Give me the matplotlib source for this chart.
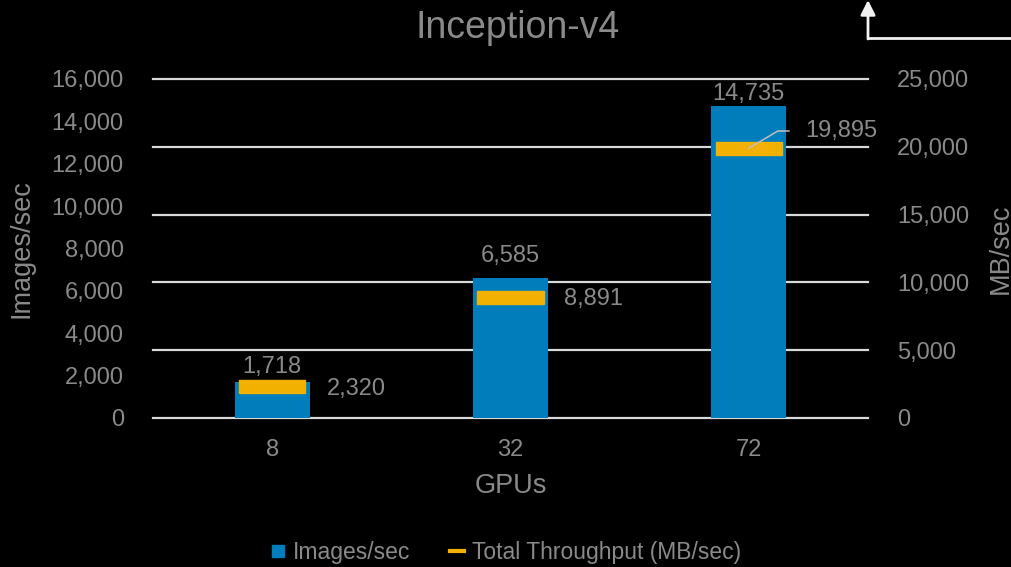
import matplotlib
matplotlib.use("Agg")
import matplotlib.pyplot as plt
from matplotlib.ticker import FuncFormatter, MultipleLocator
from matplotlib.lines import Line2D
from matplotlib.patches import Rectangle

gpus = ["8", "32", "72"]
images_sec = [1718, 6585, 14735]
throughput_mb = [2320, 8891, 19895]

plt.rcParams['font.family'] = ['Liberation Sans', 'DejaVu Sans']
TXT = '#8A8A8A'
BLUE = '#007DBA'
ORANGE = '#F2B100'
GRID = '#D9D9D9'
FS = 17
FS_AX = 19.5

fig = plt.figure(figsize=(10.12, 5.67), dpi=100, facecolor='black')
ax = fig.add_axes([0.1512, 0.2628, 0.7065, 0.5979])
ax.set_facecolor('black')
ax2 = ax.twinx()

x = list(range(len(gpus)))
ax.bar(x, images_sec, width=0.315, color=BLUE, zorder=2)
ax.set_ylim(0, 16000)
ax.set_xlim(-0.5, 2.5)
ax2.set_ylim(0, 25000)

fmt = FuncFormatter(lambda v, p: f"{int(v):,}")
ax.yaxis.set_major_locator(MultipleLocator(2000))
ax.yaxis.set_major_formatter(fmt)
ax2.yaxis.set_major_locator(MultipleLocator(5000))
ax2.yaxis.set_major_formatter(fmt)

for a in (ax, ax2):
    for s in a.spines.values():
        s.set_visible(False)
    a.tick_params(length=0, colors=TXT, labelsize=FS)
ax.tick_params(axis='y', pad=21)
ax2.tick_params(axis='y', pad=21)
ax.set_xticks(x)
ax.set_xticklabels(gpus)
ax.tick_params(axis='x', pad=15)

for v in range(0, 25001, 5000):
    ax2.axhline(v, color=GRID, lw=1.6, zorder=0, clip_on=False)
ax.set_zorder(ax2.get_zorder() + 1)
ax.patch.set_visible(False)

# throughput markers (in MB/sec coordinates, drawn above bars)
mh = 960
mw = 0.277
for xi, t in zip(x, throughput_mb):
    ax.add_patch(Rectangle((xi - mw / 2, t - mh / 2), mw, mh, color=ORANGE,
                           zorder=5, transform=ax2.transData))

# bar data labels (offset in points above bar top)
bar_lbl_off = [10.5, 16, 8.5]
for xi, v, off in zip(x, images_sec, bar_lbl_off):
    ax.annotate(f"{v:,}", (xi, v), xytext=(0, off), textcoords='offset points',
                ha='center', va='center', color=TXT, fontsize=FS, zorder=6)

# throughput labels
ax.text(x[0] + 0.353, throughput_mb[0] - 180, f"{throughput_mb[0]:,}", ha='center', va='center',
        color=TXT, fontsize=FS, transform=ax2.transData, zorder=6)
ax.text(x[1] + 0.35, throughput_mb[1] - 100, f"{throughput_mb[1]:,}", ha='center', va='center',
        color=TXT, fontsize=FS, transform=ax2.transData, zorder=6)
lead_y = throughput_mb[2] + 1270
ax.plot([x[2], x[2] + 0.122, x[2] + 0.168], [throughput_mb[2], lead_y, lead_y],
        color='#BFBFBF', lw=1.1, zorder=7, transform=ax2.transData)
ax.text(x[2] + 0.235, lead_y, f"{throughput_mb[2]:,}", ha='left', va='center',
        color=TXT, fontsize=FS, transform=ax2.transData, zorder=6)

ax.set_ylabel("Images/sec", color=TXT, fontsize=FS_AX, labelpad=12)
ax2.set_ylabel("MB/sec", color=TXT, fontsize=FS_AX, labelpad=13)
ax.set_xlabel("GPUs", color=TXT, fontsize=FS_AX, labelpad=9)
fig.text(0.511, 0.951, "Inception-v4", ha='center', va='center', color=TXT, fontsize=27)

handles = [Line2D([], [], marker='s', ls='none', color=BLUE, markersize=8),
           Line2D([], [], color=ORANGE, lw=3)]
fig.legend(handles, ["Images/sec", "Total Throughput (MB/sec)"], loc='center',
           bbox_to_anchor=(0.5, 0.025), ncol=2, frameon=False, fontsize=16.5,
           labelcolor=TXT, handlelength=0.6, handletextpad=0.35, columnspacing=1.75)

# arrow in top-right corner
ARW = '#F2F2F2'
fig.add_artist(Line2D([868/1012, 1.0], [1 - 38/567, 1 - 38/567], transform=fig.transFigure,
                      color=ARW, lw=2))
ax.annotate('', xy=(868/1012, 1.0), xytext=(868/1012, 1 - 39/567),
            xycoords='figure fraction', textcoords='figure fraction',
            arrowprops=dict(arrowstyle='-|>', color=ARW, lw=2, mutation_scale=22,
                            shrinkA=0, shrinkB=0))

fig.savefig("out.png", dpi=100, facecolor='black')
